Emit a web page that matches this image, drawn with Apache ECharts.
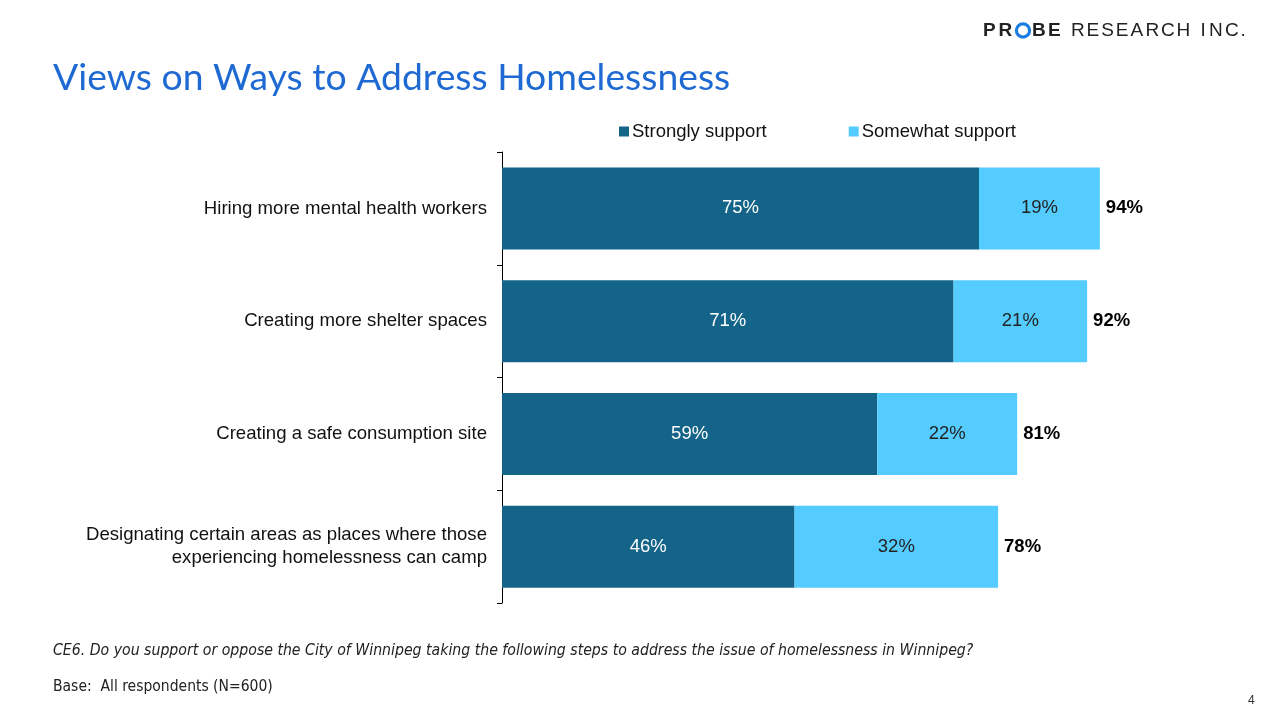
<!DOCTYPE html>
<html><head><meta charset="utf-8">
<script src="https://cdn.jsdelivr.net/npm/echarts@6/dist/echarts.min.js"></script>
<style>html,body{margin:0;padding:0;background:#fff}#c{width:1280px;height:720px}</style>
</head><body><div id="c"></div>
<script>
const categories = [
  'Hiring more mental health workers',
  'Creating more shelter spaces',
  'Creating a safe consumption site',
  'Designating certain areas as places where those\nexperiencing homelessness can camp'
];
const strongly = [75, 71, 59, 46];
const somewhat = [19, 21, 22, 32];
const totals = [94, 92, 81, 78];
const seriesNames = ['Strongly support', 'Somewhat support'];

const chart = echarts.init(document.getElementById('c'));

const logoGraphics = [];
function addLetters(str, x0, spacing, bold, y) {
  let x = x0;
  for (const ch of str) {
    if (ch !== ' ') {
      logoGraphics.push({type:'text', left:x, top:y, style:{text:ch, font:(bold?'bold ':'')+'19px "Liberation Sans", Arial, sans-serif', fill:'#222'}});
    }
    x += spacing(ch);
  }
}
const boldW = {P:15.5, R:16, B:16, E:14};
addLetters('PR', 983, ch=>boldW[ch]||15, true, 21);
logoGraphics.push({type:'circle', shape:{cx:1023, cy:30.5, r:6.6}, style:{fill:'none', stroke:'#1a7de0', lineWidth:3.2}});
addLetters('BE', 1032, ch=>boldW[ch]||15, true, 21);
const normW = {R:15.6,E:14.6,S:14.6,A:15,C:15.6,H:16,' ':8,I:8.4,N:16,'.':6};
addLetters('RESEARCH INC.', 1071, ch=>normW[ch]||14, false, 21);

const narrow = '"DejaVu Sans Condensed", sans-serif';

chart.setOption({
  animation:false,
  textStyle:{fontFamily:'"Liberation Sans", Arial, sans-serif'},
  graphic: logoGraphics.concat([
    {type:'text', left:53, top:59, style:{text:'Views on Ways to Address Homelessness', font:'37.3px Lato, sans-serif', fill:'#1f6ad2'}},
    {type:'text', left:53, top:643, style:{text:'CE6. Do you support or oppose the City of Winnipeg taking the following steps to address the issue of homelessness in Winnipeg?', font:'italic 15.7px '+narrow, fill:'#222'}},
    {type:'text', left:53, top:679, style:{text:'Base:  All respondents (N=600)', font:'15.5px '+narrow, fill:'#222'}},
    {type:'text', left:1248, top:695, style:{text:'4', font:'12px "Liberation Sans", Arial, sans-serif', fill:'#333'}}
  ]),
  legend:{
    data:seriesNames, top:117, left:614, itemWidth:10, itemHeight:10, itemGap:82,
    icon:'rect',
    textStyle:{fontSize:18.5, color:'#111', padding:[0,0,0,-2]}
  },
  grid:{left:502, right:142, top:152, bottom:117},
  xAxis:{type:'value', min:0, max:100, show:false},
  yAxis:{
    type:'category', data:categories, inverse:true,
    axisLine:{show:true, lineStyle:{color:'#000', width:1}},
    axisTick:{show:true, length:5, lineStyle:{color:'#000'}},
    axisLabel:{fontSize:18.6, color:'#111', margin:15, align:'right', lineHeight:23}
  },
  series:[
    {name:seriesNames[0], type:'bar', stack:'a', data:strongly, barWidth:82,
     itemStyle:{color:'#136488'},
     label:{show:true, position:'inside', color:'#fff', fontSize:18.5, formatter:'{c}%'}},
    {name:seriesNames[1], type:'bar', stack:'a', data:somewhat, barWidth:82,
     itemStyle:{color:'#55ccff'},
     label:{show:true, position:'inside', color:'#222', fontSize:18.5, formatter:'{c}%'}},
    {name:'Total', type:'bar', stack:'a', data:totals.map(()=>0), barWidth:82,
     itemStyle:{color:'transparent'}, silent:true,
     label:{show:true, position:'right', distance:6, color:'#000', fontSize:18.5, fontWeight:'bold',
       formatter:p=>totals[p.dataIndex]+'%'}}
  ]
});
</script></body></html>
